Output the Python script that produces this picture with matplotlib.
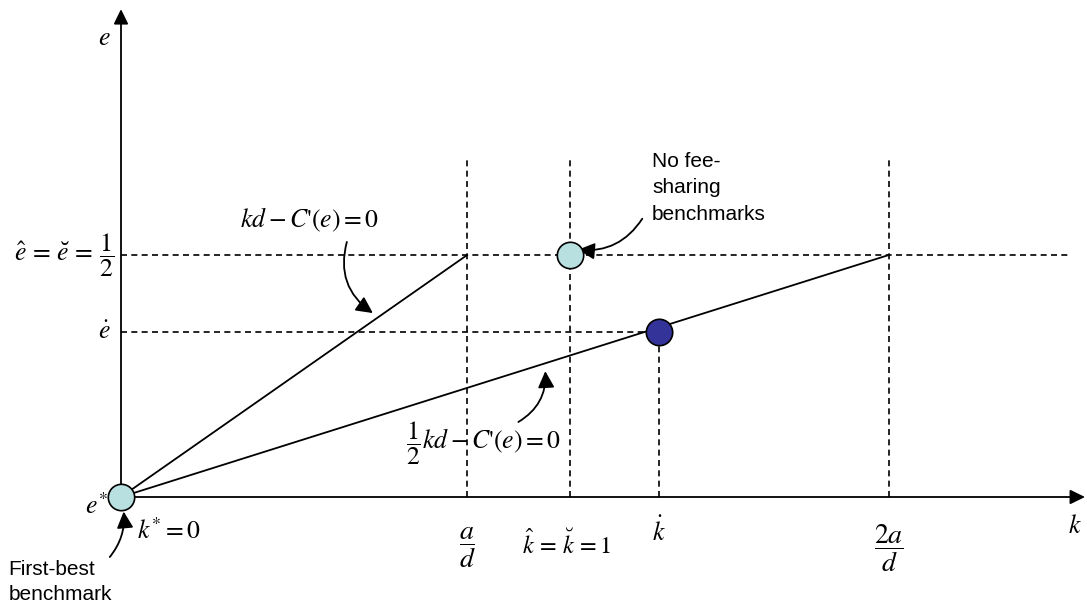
import numpy as np
import matplotlib
matplotlib.use("Agg")
import matplotlib.pyplot as plt

plt.rcParams['mathtext.fontset'] = 'stix'
plt.rcParams['font.family'] = ['Liberation Sans', 'DejaVu Sans']

# -------------------------
# positions on the axes (k = 1 at k-hat, e = 1/2 at e-hat)
# -------------------------
k_a_d = 0.771        # a/d
k_hat = 1.0          # k-hat = k-breve = 1
k_dot = 1.198        # k-dot
k_2a_d = 1.710       # 2a/d
e_hat = 0.5          # e-hat = e-breve = 1/2
e_dot = 0.341        # e-dot
guide_top = 0.705    # where the dashed verticals start
e_hat_end = 2.109    # right end of the e-hat guide
k_max = 2.147
e_max = 1.008

LIGHT = '#b8e0e0'
DARK = '#333399'

fig = plt.figure(figsize=(10.87, 6.06), dpi=100)
ax = fig.add_axes([0, 0, 1, 1])
ax.set_xlim(-121 / 449, 966 / 449)
ax.set_ylim(-109 / 484, 497 / 484)
ax.axis('off')

# axes with arrows
arr_axis = dict(arrowstyle='-|>,head_length=0.45,head_width=0.22', color='k',
                lw=1.3, shrinkA=0, shrinkB=0, mutation_scale=20)
ax.annotate('', xy=(k_max, 0), xytext=(0, 0), arrowprops=arr_axis)
ax.annotate('', xy=(0, e_max), xytext=(0, 0), arrowprops=arr_axis)

# dashed guides
dash = dict(color='k', lw=1.2, ls=(0, (3.6, 2.6)))
for kx in [k_a_d, k_hat, k_2a_d]:
    ax.plot([kx, kx], [0, guide_top], **dash)
ax.plot([k_dot, k_dot], [0, e_dot], **dash)
ax.plot([0, e_hat_end], [e_hat, e_hat], **dash)
ax.plot([0, k_dot], [e_dot, e_dot], **dash)

# the two first-order-condition lines
ax.plot([0, k_a_d], [0, e_hat], color='k', lw=1.3)
ax.plot([0, k_2a_d], [0, e_hat], color='k', lw=1.3)

# benchmark points
ax.plot([0], [0], 'o', ms=19, mfc=LIGHT, mec='k', mew=1.2, zorder=5)
ax.plot([k_hat], [e_hat], 'o', ms=19, mfc=LIGHT, mec='k', mew=1.2, zorder=5)
ax.plot([k_dot], [e_dot], 'o', ms=19, mfc=DARK, mec='k', mew=1.2, zorder=5)

# axis labels and tick labels
fs = 18.5
ax.text(-0.038, 0.948, r'$e$', fontsize=fs, ha='center', va='center')
ax.text(2.125, -0.06, r'$k$', fontsize=fs, ha='center', va='center')
ax.text(-0.014, e_hat, r'$\hat{e}\,=\,\breve{e}\,=\,\dfrac{1}{2}$', fontsize=fs,
        ha='right', va='center')
ax.text(-0.024, e_dot, r'$\dot{e}$', fontsize=fs, ha='right', va='center')
ax.text(-0.029, -0.018, r'$e^{*}$', fontsize=fs, ha='right', va='center',
        zorder=6)
ax.text(0.036, -0.07, r'$k^{*}=0$', fontsize=fs, ha='left', va='center')
ax.text(k_a_d, -0.105, r'$\dfrac{a}{d}$', fontsize=20, ha='center', va='center')
ax.text(k_hat - 0.008, -0.099, r'$\hat{k}\,=\,\breve{k}\,=1$', fontsize=17.5,
        ha='center', va='center')
ax.text(k_dot, -0.072, r'$\dot{k}$', fontsize=fs, ha='center', va='center')
ax.text(k_2a_d, -0.105, r'$\dfrac{2a}{d}$', fontsize=20, ha='center', va='center')

# curve labels
ax.text(0.265, 0.572, r"$kd-C\text{'}(e)=0$", fontsize=fs, ha='left',
        va='center')
ax.text(0.634, 0.110, r"$\dfrac{1}{2}kd-C\text{'}(e)=0$", fontsize=fs,
        ha='left', va='center')

# text notes
ax.text(1.183, 0.713, 'No fee-\nsharing\nbenchmarks', fontsize=15,
        ha='left', va='top', linespacing=1.5)
ax.text(-0.250, -0.130, 'First-best\nbenchmark', fontsize=15,
        ha='left', va='top', linespacing=1.4)

# pointer arrows
def pointer(src, dst, rad):
    ax.annotate('', xy=dst, xytext=src,
                arrowprops=dict(arrowstyle='-|>,head_length=0.4,head_width=0.2',
                                color='k', lw=1.3, shrinkA=0, shrinkB=0,
                                mutation_scale=25,
                                connectionstyle=f'arc3,rad={rad}'))

pointer((0.503, 0.527), (0.561, 0.380), 0.35)
pointer((0.885, 0.155), (0.945, 0.260), 0.3)
pointer((1.161, 0.575), (1.018, 0.511), -0.3)
pointer((-0.025, -0.124), (0.006, -0.030), 0.2)

fig.savefig('out.png', dpi=100)
